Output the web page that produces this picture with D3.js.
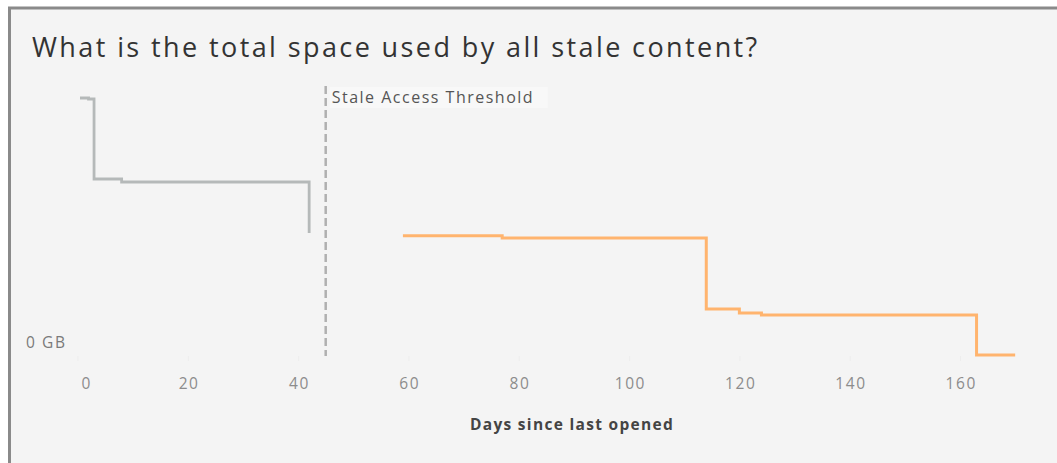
<!DOCTYPE html>
<html>
<head>
<meta charset="utf-8">
<script src="https://cdn.jsdelivr.net/npm/d3@7"></script>
<style>
  html, body { margin: 0; padding: 0; background: #fff; }
  svg { display: block; font-family: "Open Sans", "Noto Sans", sans-serif; }
</style>
</head>
<body>
<div class="root"></div>
<script>
// days since last opened -> total stale space (GB)
var grayDays = [0, 2, 3, 8, 42];
var grayGB = [257, 256, 176, 173, 122];

var orangeDays = [59, 77, 114, 120, 124, 163, 170];
var orangeGB = [119.3, 117, 46, 42, 40, 0, 0];

var xTicks = [0, 20, 40, 60, 80, 100, 120, 140, 160];
var threshold = 45;

function runChart() {
  var w = 1057, h = 463;

  var svg = d3.select('.root').append('svg')
    .attr('width', w)
    .attr('height', h);

  // frame
  svg.append('rect')
    .attr('x', 9.5).attr('y', 8)
    .attr('width', w).attr('height', h)
    .style('fill', '#f4f4f4')
    .style('stroke', '#8a8a8a')
    .style('stroke-width', 3);

  svg.append('text')
    .attr('x', 32)
    .attr('y', 57)
    .style('font-size', '27px')
    .style('letter-spacing', '2.4px')
    .style('fill', '#333')
    .text('What is the total space used by all stale content?');

  var x = d3.scaleLinear().domain([0, 160]).range([77.5, 960]);
  var y = d3.scaleLinear().domain([0, 260]).range([355, 95]);
  var paneLeft = 80;

  svg.append('clipPath').attr('id', 'pane')
    .append('rect')
      .attr('x', paneLeft).attr('y', 70)
      .attr('width', w - paneLeft).attr('height', 300);

  // x axis
  var xAxis = d3.axisBottom(x)
    .tickValues(xTicks)
    .tickSize(5)
    .tickPadding(17)
    .tickFormat(d3.format('d'));

  var gx = svg.append('g')
    .attr('transform', 'translate(0,' + (y(0) + 1) + ')')
    .call(xAxis);
  gx.select('.domain').remove();
  gx.selectAll('.tick line').style('stroke', '#ededed');
  gx.selectAll('.tick text')
    .style('font-size', '15.5px')
    .style('letter-spacing', '1.6px')
    .style('fill', '#8c8c8c')
    .style('font-family', '"Open Sans", sans-serif')
    .attr('dx', '0.8px');
  // first label pushed inside the pane
  gx.selectAll('.tick text')
    .filter(function(d) { return d === 0; })
    .attr('text-anchor', 'start')
    .attr('dx', null)
    .attr('x', paneLeft - x(0) + 1);

  svg.append('text')
    .attr('x', 572)
    .attr('y', 430)
    .attr('text-anchor', 'middle')
    .style('font-size', '15.5px')
    .style('letter-spacing', '1.3px')
    .style('font-weight', 'bold')
    .style('fill', '#444')
    .text('Days since last opened');

  svg.append('text')
    .attr('x', 26)
    .attr('y', y(0) - 7)
    .style('font-size', '15.5px')
    .style('letter-spacing', '1.6px')
    .style('fill', '#7a7a7a')
    .text('0 GB');

  // threshold line
  svg.append('line')
    .attr('x1', x(threshold)).attr('x2', x(threshold))
    .attr('y1', 86).attr('y2', y(0) + 1)
    .style('stroke', '#b0b0b0')
    .style('stroke-width', 2.5)
    .style('stroke-dasharray', '8,4');

  svg.append('rect')
    .attr('x', x(threshold) + 4).attr('y', 87)
    .attr('width', 218).attr('height', 21)
    .style('fill', '#f8f8f8');

  svg.append('text')
    .attr('x', x(threshold) + 6)
    .attr('y', 103)
    .style('font-size', '16px')
    .style('letter-spacing', '1.5px')
    .style('fill', '#555')
    .text('Stale Access Threshold');

  var line = d3.line()
    .x(function(d) { return x(d[0]); })
    .y(function(d) { return y(d[1]); })
    .curve(d3.curveStepAfter);

  var grayData = grayDays.map(function(d, i) { return [d, grayGB[i]]; });
  var orangeData = orangeDays.map(function(d, i) { return [d, orangeGB[i]]; });

  var marks = svg.append('g').attr('clip-path', 'url(#pane)');

  marks.append('path')
    .datum(grayData)
    .attr('d', line)
    .style('fill', 'none')
    .style('stroke', '#b5b9b9')
    .style('stroke-width', 2.8);

  marks.append('path')
    .datum(orangeData)
    .attr('d', line)
    .style('fill', 'none')
    .style('stroke', '#ffb46e')
    .style('stroke-width', 3);
}

window.onload = function() {
  runChart();
}
</script>
</body>
</html>
